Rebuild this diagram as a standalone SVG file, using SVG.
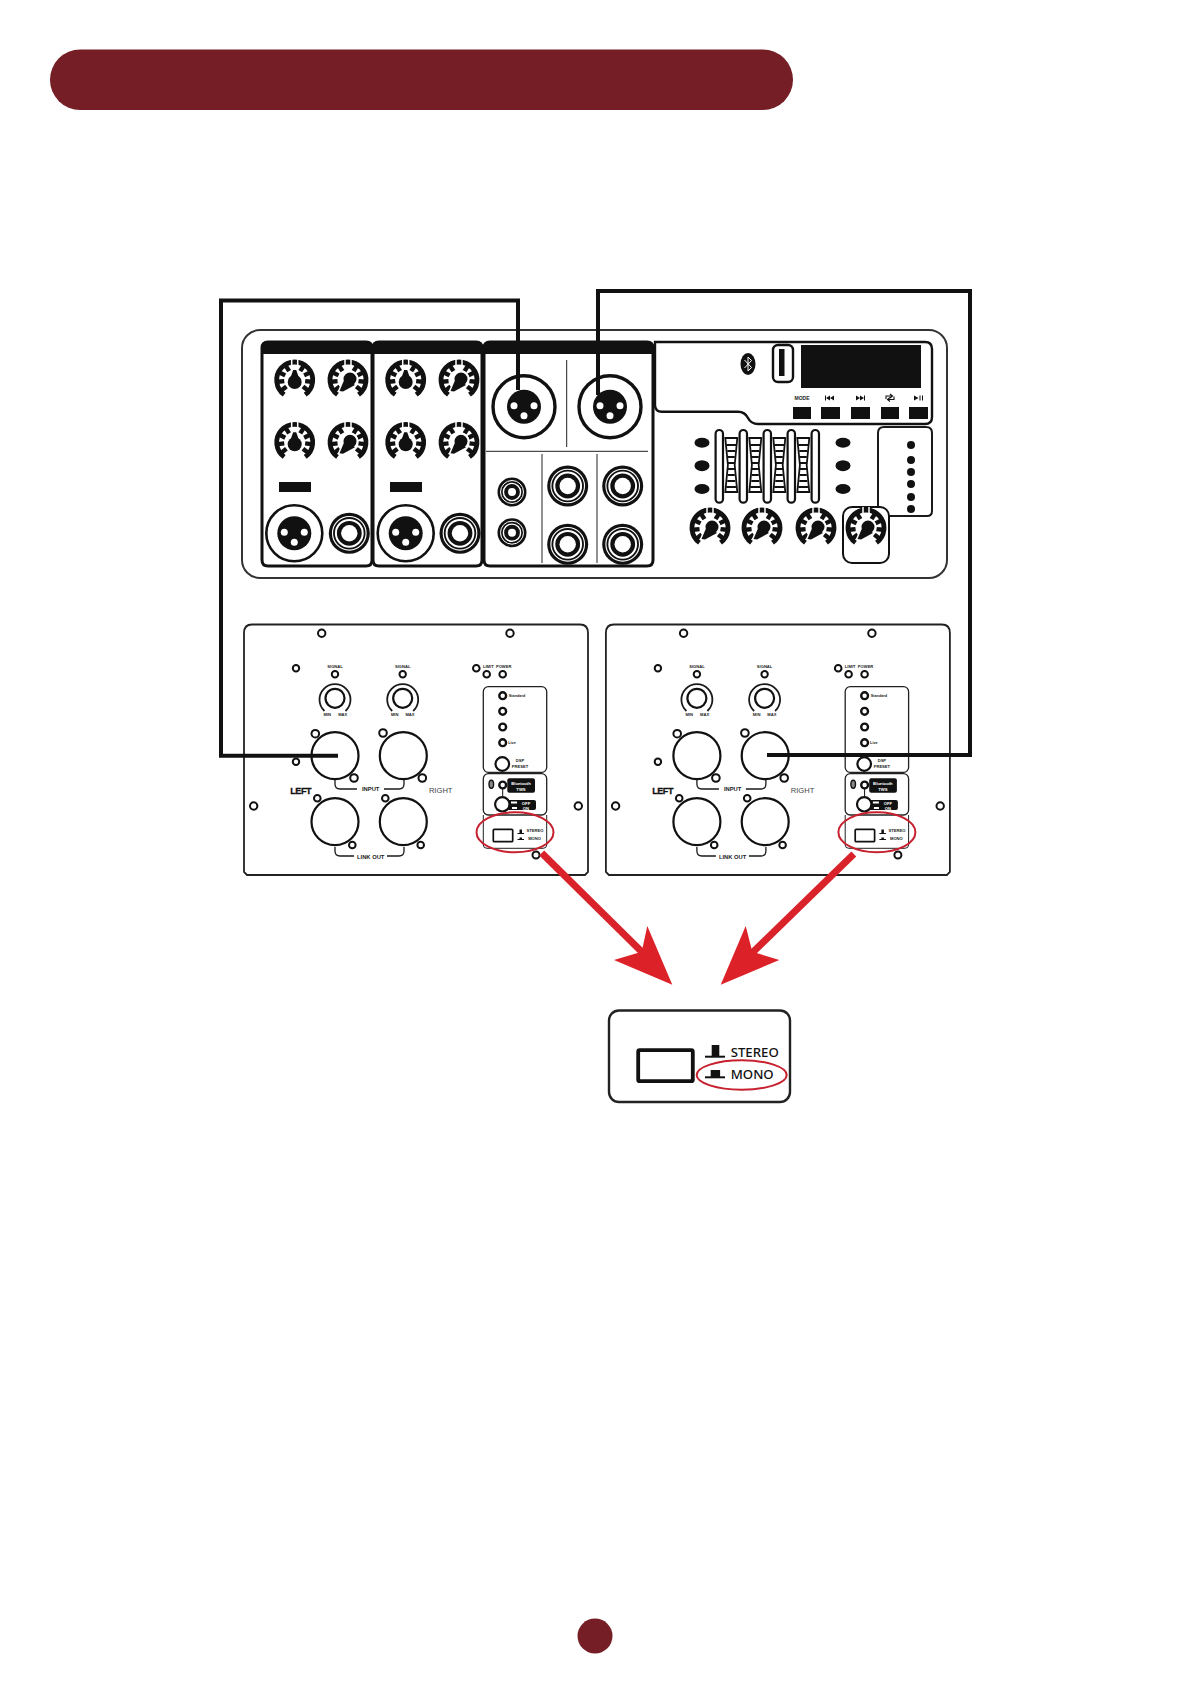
<svg xmlns="http://www.w3.org/2000/svg" width="1191" height="1684" viewBox="0 0 1191 1684">
<style>
.ln{fill:none;stroke:#1a1a1a;stroke-width:2}
.th{fill:none;stroke:#222;stroke-width:1}
.bk{fill:#111}
.wh{fill:#fff;stroke:#111;stroke-width:2.2}
.sc{fill:#fff;stroke:#111;stroke-width:2}
.con{fill:none;stroke:#111;stroke-width:4;stroke-linejoin:miter}
.red{fill:none;stroke:#c7202e;stroke-width:2}
.arr{fill:none;stroke:#d9222a;stroke-width:7}
.arh{fill:#dc2228}
text{font-family:"Liberation Sans",Arial,sans-serif;fill:#222}
.t4{font-size:4.1px;font-weight:700;text-anchor:middle}
.t5{font-size:5.8px;font-weight:700;text-anchor:middle}
.tw{font-size:4.2px;font-weight:700;text-anchor:middle;fill:#fff}
.big{font-family:"Noto Sans","Open Sans",sans-serif;font-size:13.2px;font-weight:500;fill:#111}
</style>
<defs>
<g id="dial">
<path d="M-10.500 14.600A18 18 0 1 1 10.500 14.600" fill="none" stroke="#111" stroke-width="4.800"/>
<g stroke="#111" stroke-width="4.400">
<line y1="-10.500" y2="-17" transform="rotate(-128)"/><line y1="-10.500" y2="-17" transform="rotate(-96)"/><line y1="-10.500" y2="-17" transform="rotate(-64)"/><line y1="-10.500" y2="-17" transform="rotate(-32)"/><line y1="-10.500" y2="-17" transform="rotate(32)"/><line y1="-10.500" y2="-17" transform="rotate(64)"/><line y1="-10.500" y2="-17" transform="rotate(96)"/><line y1="-10.500" y2="-17" transform="rotate(128)"/>
</g>
<line x1="-3" y1="-21" x2="-3" y2="-14" stroke="#fff" stroke-width="1.500"/><line x1="3" y1="-21" x2="3" y2="-14" stroke="#fff" stroke-width="1.500"/>
</g>
<g id="knobUp"><use href="#dial"/><circle cy="2" r="7" fill="#111" stroke="#fff" stroke-width="2"/><path d="M-4 -3L-1.500 -10H1.500L4 -3Z" class="bk"/><circle cy="2" r="7" class="bk"/></g>
<g id="knobTilt"><use href="#dial"/><path d="M-3 -2L-8.500 11L-4.500 12L7 5Z" fill="#fff" stroke="#fff" stroke-width="3"/><circle cx="2" cy="-1" r="7.500" fill="#111" stroke="#fff" stroke-width="2"/><path d="M-3 -2L-8.500 11L-5 11.500L7 5Z" class="bk"/></g>
<g id="jack"><circle r="20.500" class="bk"/><circle r="16.800" fill="none" stroke="#fff" stroke-width="1.100"/><circle r="13.400" fill="none" stroke="#fff" stroke-width="2"/><circle r="8.200" fill="#fff"/></g>
<g id="rca"><circle r="14.500" class="bk"/><circle r="11.500" fill="none" stroke="#fff" stroke-width="1"/><circle r="8.600" fill="none" stroke="#fff" stroke-width="1.400"/><circle r="4" fill="#fff"/></g>
<g id="xlrPins"><circle r="17" class="bk"/><circle cx="-10" cy="-1" r="3.500" fill="#fff"/><circle cx="10" cy="-1" r="3.500" fill="#fff"/><circle cy="9" r="3.500" fill="#fff"/></g>
<g id="slider"><rect x="-3.700" y="430" width="7.400" height="72.700" rx="3.700" class="wh"/></g>
<g id="scale"><path d="M-6 438L6 438L3.400 465L6 492L-6 492L-3.400 465Z" class="wh" style="stroke-width:1.800"/><path d="M-5 445H5M-4 451H4M-3.500 457H3.500M-3.500 463H3.500M-3.500 469H3.500M-3.500 475H3.500M-4 481H4M-5 487H5" stroke="#111" stroke-width="1.800" fill="none"/></g>
</defs>
<rect width="1191" height="1684" fill="#fff"/>
<g id="title-bar"><rect x="50" y="49.500" width="743" height="60.500" rx="30.200" fill="#751e25"/></g>
<g id="page-number"><circle cx="595" cy="1636" r="17.500" fill="#751e25"/></g>

<g id="mixer">
<rect x="242" y="330" width="705" height="248" rx="18" fill="#fff" stroke="#333" stroke-width="2"/>
<g id="channel-1">
<path d="M262 354V348Q262 342 268 342H366Q372 342 372 348V560Q372 566 366 566H268Q262 566 262 560Z" fill="#fff" stroke="#111" stroke-width="3"/>
<path d="M262 354V348Q262 342 268 342H366Q372 342 372 348V354Z" class="bk"/>
<use href="#knobUp" x="294.700" y="380"/><use href="#knobTilt" x="348" y="380"/><use href="#knobUp" x="294.700" y="442.300"/><use href="#knobTilt" x="348" y="442.300"/>
<rect x="279" y="482" width="32" height="10" class="bk"/>
<circle cx="294.300" cy="533.300" r="28" fill="#fff" stroke="#111" stroke-width="2.600"/><use href="#xlrPins" x="294.300" y="533.300"/>
<use href="#jack" x="349.300" y="533.300"/>
</g>
<g id="channel-2">
<path d="M373 354V348Q373 342 379 342H476Q482 342 482 348V560Q482 566 476 566H379Q373 566 373 560Z" fill="#fff" stroke="#111" stroke-width="3"/>
<path d="M373 354V348Q373 342 379 342H476Q482 342 482 348V354Z" class="bk"/>
<use href="#knobUp" x="405.700" y="380"/><use href="#knobTilt" x="459" y="380"/><use href="#knobUp" x="405.700" y="442.300"/><use href="#knobTilt" x="459" y="442.300"/>
<rect x="390" y="482" width="32" height="10" class="bk"/>
<circle cx="405.700" cy="533.300" r="28" fill="#fff" stroke="#111" stroke-width="2.600"/><use href="#xlrPins" x="405.700" y="533.300"/>
<use href="#jack" x="460" y="533.300"/>
</g>
<g id="channel-3">
<path d="M484 354V348Q484 342 490 342H647Q653 342 653 348V560Q653 566 647 566H490Q484 566 484 560Z" fill="#fff" stroke="#111" stroke-width="3"/>
<path d="M484 354V348Q484 342 490 342H647Q653 342 653 348V354Z" class="bk"/>
<path d="M486 451.300H648M566.700 360V447M542 454V563M597 454V563" class="th"/>
<circle cx="524" cy="406.700" r="31" fill="#fff" stroke="#111" stroke-width="3.400"/><use href="#xlrPins" x="524" y="406.700"/>
<circle cx="610" cy="406.700" r="31" fill="#fff" stroke="#111" stroke-width="3.400"/><use href="#xlrPins" x="610" y="406.700"/>
<use href="#rca" x="512" y="492"/><use href="#rca" x="512" y="532.700"/>
<use href="#jack" x="567.700" y="486"/><use href="#jack" x="622.700" y="486"/><use href="#jack" x="567.700" y="544.300"/><use href="#jack" x="622.700" y="544.300"/>
</g>
<g id="media-player">
<path d="M655 342H925Q932 342 932 349V417Q932 424 925 424H758Q751 424 748 418Q745 411.700 738 411.700H662Q655 411.700 655 405Z" fill="#fff" stroke="#111" stroke-width="2.400"/>
<rect x="801" y="345" width="120" height="43" class="bk"/>
<rect x="773" y="345" width="20" height="37" rx="5" fill="#fff" stroke="#111" stroke-width="2.400"/>
<rect x="779" y="349" width="5.500" height="27" class="bk"/>
<ellipse cx="748" cy="364" rx="7.500" ry="11" class="bk"/>
<path d="M744.500 360L751.500 367.500L748 371V357L751.500 360.500L744.500 368" fill="none" stroke="#fff" stroke-width="1"/>
<text x="802" y="400" class="t5" style="font-size:5px">MODE</text>
<path d="M825 395.500V400.500H826V395.500ZM826 398L830 395.500V400.500ZM830 398L834 395.500V400.500Z" class="bk"/>
<path d="M856 395.500V400.500L860 398ZM860 395.500V400.500L864 398ZM864 395.500V400.500H865V395.500Z" class="bk"/>
<path d="M886 399V396H892M890 394L892.500 396L890 398M894 396.500V399.500H888M890 397.500L887.500 399.500L890 401.500" fill="none" stroke="#111" stroke-width="1.100"/>
<path d="M914 395.500V400.500L918.500 398Z" class="bk"/><path d="M920 395.500V400.500M922.500 395.500V400.500" stroke="#111" stroke-width="1"/>
<rect x="793" y="407" width="18" height="12" class="bk"/><rect x="821" y="407" width="19" height="12" class="bk"/><rect x="851" y="407" width="19" height="12" class="bk"/><rect x="881" y="407" width="18" height="12" class="bk"/><rect x="909" y="407" width="19" height="12" class="bk"/>
</g>
<g id="sliders">
<ellipse cx="702" cy="442.700" rx="7.500" ry="5" class="bk"/><ellipse cx="702" cy="465.700" rx="7.500" ry="5.500" class="bk"/><ellipse cx="702" cy="489" rx="7.500" ry="5" class="bk"/>
<ellipse cx="843" cy="442.700" rx="7.500" ry="5" class="bk"/><ellipse cx="843" cy="465.700" rx="7.500" ry="5.500" class="bk"/><ellipse cx="843" cy="489" rx="7.500" ry="5" class="bk"/>
<use href="#scale" x="731.300"/><use href="#scale" x="755.300"/><use href="#scale" x="779.300"/><use href="#scale" x="803.300"/>
<use href="#slider" x="719.300"/><use href="#slider" x="743.300"/><use href="#slider" x="767.300"/><use href="#slider" x="791.300"/><use href="#slider" x="815.300"/>
</g>
<g id="level-meter">
<path d="M878 507V433Q878 427 884 427H926Q932 427 932 433V511Q932 516 927 516H889" class="ln"/>
<circle cx="911" cy="445" r="4" class="bk"/><circle cx="911" cy="460" r="4" class="bk"/><circle cx="911" cy="472" r="4" class="bk"/><circle cx="911" cy="484" r="4" class="bk"/><circle cx="911" cy="497" r="4" class="bk"/><circle cx="911" cy="509" r="4" class="bk"/>
</g>
<g id="master-knobs">
<rect x="843" y="507" width="46" height="56" rx="9" fill="#fff" stroke="#111" stroke-width="2"/>
<use href="#knobTilt" x="710" y="528"/><use href="#knobTilt" x="762" y="528"/><use href="#knobTilt" x="816" y="528"/><use href="#knobTilt" x="866" y="528"/>
</g>
</g>

<g id="speaker-left">
<path d="M252 624.500H580Q588 624.500 588 633V872L585 875H247L244 872V633Q244 624.500 252 624.500Z" fill="#fff" stroke="#222" stroke-width="1.800"/>
<g class="sc"><circle cx="321.700" cy="633.300" r="3.700"/><circle cx="510" cy="633.300" r="3.700"/><circle cx="296" cy="668.300" r="3.200"/><circle cx="296" cy="761.700" r="3.200"/><circle cx="253.700" cy="806" r="3.700"/><circle cx="578.300" cy="806" r="3.700"/><circle cx="536" cy="855" r="3.500"/></g>
<text x="335" y="667.500" class="t4">SIGNAL</text><text x="402.700" y="667.500" class="t4">SIGNAL</text>
<circle cx="335" cy="674.300" r="3.200" class="sc"/><circle cx="402.700" cy="674.300" r="3.200" class="sc"/>
<circle cx="335" cy="698.300" r="9.500" class="wh"/><path d="M324.500 711A15.500 15.500 0 1 1 345.500 711" class="ln" style="stroke-width:1.800"/>
<circle cx="402.700" cy="698.300" r="9.500" class="wh"/><path d="M392.200 711A15.500 15.500 0 1 1 413.200 711" class="ln" style="stroke-width:1.800"/>
<text x="327.300" y="716" class="t4">MIN</text><text x="342.700" y="716" class="t4">MAX</text><text x="394.700" y="716" class="t4">MIN</text><text x="410" y="716" class="t4">MAX</text>
<circle cx="335" cy="755.700" r="23.500" class="wh"/><circle cx="403.300" cy="755.700" r="23.500" class="wh"/><circle cx="335" cy="821.700" r="23.500" class="wh"/><circle cx="403.300" cy="821.700" r="23.500" class="wh"/>
<g class="sc"><circle cx="315.300" cy="733.700" r="3.800"/><circle cx="354" cy="778" r="3.800"/><circle cx="383" cy="733" r="3.800"/><circle cx="422.300" cy="778" r="3.800"/><circle cx="317.300" cy="798.300" r="3.300"/><circle cx="352.300" cy="845" r="3.300"/><circle cx="385.300" cy="798.300" r="3.300"/><circle cx="420.700" cy="845" r="3.300"/></g>
<path d="M335 780V784Q335 789 340 789H357M384 789H399Q404 789 404 784V780M335 847V851Q335 856 340 856H354M387 856H399Q404 856 404 851V847" class="ln" style="stroke-width:1.300"/>
<text x="370.700" y="791" class="t5">INPUT</text><text x="370.700" y="859" class="t5">LINK OUT</text>
<text x="300.700" y="793.500" style="font-size:9px;font-weight:700;text-anchor:middle;fill:#111;letter-spacing:-.4px;stroke:#111;stroke-width:.3">LEFT</text>
<text x="440.700" y="792.500" style="font-size:7.600px;text-anchor:middle;fill:#444">RIGHT</text>
<text x="488.300" y="667.500" class="t4">LIMIT</text><text x="503.700" y="667.500" class="t4">POWER</text>
<g class="sc"><circle cx="476.300" cy="668.300" r="3.300"/><circle cx="486.700" cy="674.300" r="3.300"/><circle cx="502.700" cy="674.300" r="3.300"/></g>
<rect x="483.300" y="686.700" width="63.400" height="85.600" rx="5" fill="#fff" stroke="#222" stroke-width="1.300"/>
<rect x="483.300" y="773.700" width="63.400" height="41.300" rx="5" fill="#fff" stroke="#222" stroke-width="1.300"/>
<path d="M483.300 815V845Q483.300 848.300 487 848.300H543Q546.700 848.300 546.700 845V815" class="th"/>
<g class="sc" style="stroke-width:2.400"><circle cx="502.700" cy="695.700" r="3.400"/><circle cx="502.700" cy="711.300" r="3.400"/><circle cx="502.700" cy="727" r="3.400"/><circle cx="502.700" cy="742.700" r="3.400"/></g>
<text x="517" y="697" class="t4" style="font-size:3.800px">Standard</text><text x="512" y="744" class="t4" style="font-size:3.800px">Live</text>
<circle cx="502.300" cy="764" r="6.800" class="wh"/>
<text x="520" y="761.500" class="t4">DSP</text><text x="520" y="767.500" class="t4">PRESET</text>
<rect x="507.300" y="778.300" width="27.700" height="14.400" rx="2" class="bk"/>
<text x="521" y="784.500" class="tw">Bluetooth</text><text x="521" y="790.500" class="tw">TWS</text>
<ellipse cx="491.300" cy="784.300" rx="2.300" ry="4" fill="#888" stroke="#111" stroke-width="1.400"/>
<circle cx="502.700" cy="785" r="3.400" class="sc" style="stroke-width:2.400"/>
<rect x="507" y="800" width="29" height="10" rx="2" class="bk"/>
<path d="M502.700 788.500V797" stroke="#111" stroke-width="1"/>
<circle cx="502.300" cy="804.300" r="7.200" class="wh"/>
<path d="M511 802.500H517M512 808H517" stroke="#fff" stroke-width="2"/>
<text x="526" y="804.500" class="tw">OFF</text><text x="526" y="809.500" class="tw">ON</text>
<rect x="493.300" y="829.300" width="19.400" height="12.400" rx="1" fill="#fff" stroke="#111" stroke-width="1.700"/>
<path d="M517.500 833.500H524M517.500 839.500H524" stroke="#111" stroke-width="1" fill="none"/>
<rect x="519.500" y="829.500" width="2.500" height="4" class="bk"/><rect x="519.500" y="837.500" width="2.500" height="2" class="bk"/>
<text x="535" y="832" class="t4">STEREO</text><text x="534.500" y="839.500" class="t4">MONO</text>
<ellipse cx="515" cy="832.300" rx="38.500" ry="20" class="red"/>
</g>

<g id="speaker-right" transform="translate(361.900 0)">
<path d="M252 624.500H580Q588 624.500 588 633V872L585 875H247L244 872V633Q244 624.500 252 624.500Z" fill="#fff" stroke="#222" stroke-width="1.800"/>
<g class="sc"><circle cx="321.700" cy="633.300" r="3.700"/><circle cx="510" cy="633.300" r="3.700"/><circle cx="296" cy="668.300" r="3.200"/><circle cx="296" cy="761.700" r="3.200"/><circle cx="253.700" cy="806" r="3.700"/><circle cx="578.300" cy="806" r="3.700"/><circle cx="536" cy="855" r="3.500"/></g>
<text x="335" y="667.500" class="t4">SIGNAL</text><text x="402.700" y="667.500" class="t4">SIGNAL</text>
<circle cx="335" cy="674.300" r="3.200" class="sc"/><circle cx="402.700" cy="674.300" r="3.200" class="sc"/>
<circle cx="335" cy="698.300" r="9.500" class="wh"/><path d="M324.500 711A15.500 15.500 0 1 1 345.500 711" class="ln" style="stroke-width:1.800"/>
<circle cx="402.700" cy="698.300" r="9.500" class="wh"/><path d="M392.200 711A15.500 15.500 0 1 1 413.200 711" class="ln" style="stroke-width:1.800"/>
<text x="327.300" y="716" class="t4">MIN</text><text x="342.700" y="716" class="t4">MAX</text><text x="394.700" y="716" class="t4">MIN</text><text x="410" y="716" class="t4">MAX</text>
<circle cx="335" cy="755.700" r="23.500" class="wh"/><circle cx="403.300" cy="755.700" r="23.500" class="wh"/><circle cx="335" cy="821.700" r="23.500" class="wh"/><circle cx="403.300" cy="821.700" r="23.500" class="wh"/>
<g class="sc"><circle cx="315.300" cy="733.700" r="3.800"/><circle cx="354" cy="778" r="3.800"/><circle cx="383" cy="733" r="3.800"/><circle cx="422.300" cy="778" r="3.800"/><circle cx="317.300" cy="798.300" r="3.300"/><circle cx="352.300" cy="845" r="3.300"/><circle cx="385.300" cy="798.300" r="3.300"/><circle cx="420.700" cy="845" r="3.300"/></g>
<path d="M335 780V784Q335 789 340 789H357M384 789H399Q404 789 404 784V780M335 847V851Q335 856 340 856H354M387 856H399Q404 856 404 851V847" class="ln" style="stroke-width:1.300"/>
<text x="370.700" y="791" class="t5">INPUT</text><text x="370.700" y="859" class="t5">LINK OUT</text>
<text x="300.700" y="793.500" style="font-size:9px;font-weight:700;text-anchor:middle;fill:#111;letter-spacing:-.4px;stroke:#111;stroke-width:.3">LEFT</text>
<text x="440.700" y="792.500" style="font-size:7.600px;text-anchor:middle;fill:#444">RIGHT</text>
<text x="488.300" y="667.500" class="t4">LIMIT</text><text x="503.700" y="667.500" class="t4">POWER</text>
<g class="sc"><circle cx="476.300" cy="668.300" r="3.300"/><circle cx="486.700" cy="674.300" r="3.300"/><circle cx="502.700" cy="674.300" r="3.300"/></g>
<rect x="483.300" y="686.700" width="63.400" height="85.600" rx="5" fill="#fff" stroke="#222" stroke-width="1.300"/>
<rect x="483.300" y="773.700" width="63.400" height="41.300" rx="5" fill="#fff" stroke="#222" stroke-width="1.300"/>
<path d="M483.300 815V845Q483.300 848.300 487 848.300H543Q546.700 848.300 546.700 845V815" class="th"/>
<g class="sc" style="stroke-width:2.400"><circle cx="502.700" cy="695.700" r="3.400"/><circle cx="502.700" cy="711.300" r="3.400"/><circle cx="502.700" cy="727" r="3.400"/><circle cx="502.700" cy="742.700" r="3.400"/></g>
<text x="517" y="697" class="t4" style="font-size:3.800px">Standard</text><text x="512" y="744" class="t4" style="font-size:3.800px">Live</text>
<circle cx="502.300" cy="764" r="6.800" class="wh"/>
<text x="520" y="761.500" class="t4">DSP</text><text x="520" y="767.500" class="t4">PRESET</text>
<rect x="507.300" y="778.300" width="27.700" height="14.400" rx="2" class="bk"/>
<text x="521" y="784.500" class="tw">Bluetooth</text><text x="521" y="790.500" class="tw">TWS</text>
<ellipse cx="491.300" cy="784.300" rx="2.300" ry="4" fill="#888" stroke="#111" stroke-width="1.400"/>
<circle cx="502.700" cy="785" r="3.400" class="sc" style="stroke-width:2.400"/>
<rect x="507" y="800" width="29" height="10" rx="2" class="bk"/>
<path d="M502.700 788.500V797" stroke="#111" stroke-width="1"/>
<circle cx="502.300" cy="804.300" r="7.200" class="wh"/>
<path d="M511 802.500H517M512 808H517" stroke="#fff" stroke-width="2"/>
<text x="526" y="804.500" class="tw">OFF</text><text x="526" y="809.500" class="tw">ON</text>
<rect x="493.300" y="829.300" width="19.400" height="12.400" rx="1" fill="#fff" stroke="#111" stroke-width="1.700"/>
<path d="M517.500 833.500H524M517.500 839.500H524" stroke="#111" stroke-width="1" fill="none"/>
<rect x="519.500" y="829.500" width="2.500" height="4" class="bk"/><rect x="519.500" y="837.500" width="2.500" height="2" class="bk"/>
<text x="535" y="832" class="t4">STEREO</text><text x="534.500" y="839.500" class="t4">MONO</text>
<ellipse cx="515" cy="832.300" rx="38.500" ry="20" class="red"/>
</g>

<g id="switch-detail">
<rect x="609" y="1010.500" width="181" height="91.500" rx="10" fill="#fff" stroke="#222" stroke-width="2.400"/>
<rect x="638.200" y="1050.200" width="54.600" height="31" rx="1.500" fill="#fff" stroke="#111" stroke-width="3.800"/>
<path d="M705 1056.700H725" stroke="#111" stroke-width="2"/><rect x="711.700" y="1045" width="7.600" height="11" class="bk"/>
<path d="M705 1077.300H725" stroke="#111" stroke-width="2"/><rect x="710.700" y="1070" width="9.400" height="7" class="bk"/>
<text x="730.700" y="1057.300" class="big">STEREO</text>
<text x="730.700" y="1079" class="big">MONO</text>
<ellipse cx="741.700" cy="1075" rx="45" ry="14.700" class="red"/>
</g>

<g id="connectors">
<path d="M338 755.700H221V300.500H518V390" class="con"/>
<path d="M598 395V291H970V755H767" class="con"/>
<path d="M541.700 853L645 955" class="arr"/>
<path d="M853.800 854L750 955" class="arr"/>
<path d="M672.300 984.700L647.300 926L641.700 951.700L614 960Z" class="arh"/>
<path d="M720.700 984.700L745.700 926L752.300 951.700L779.300 960Z" class="arh"/>
</g>
</svg>
